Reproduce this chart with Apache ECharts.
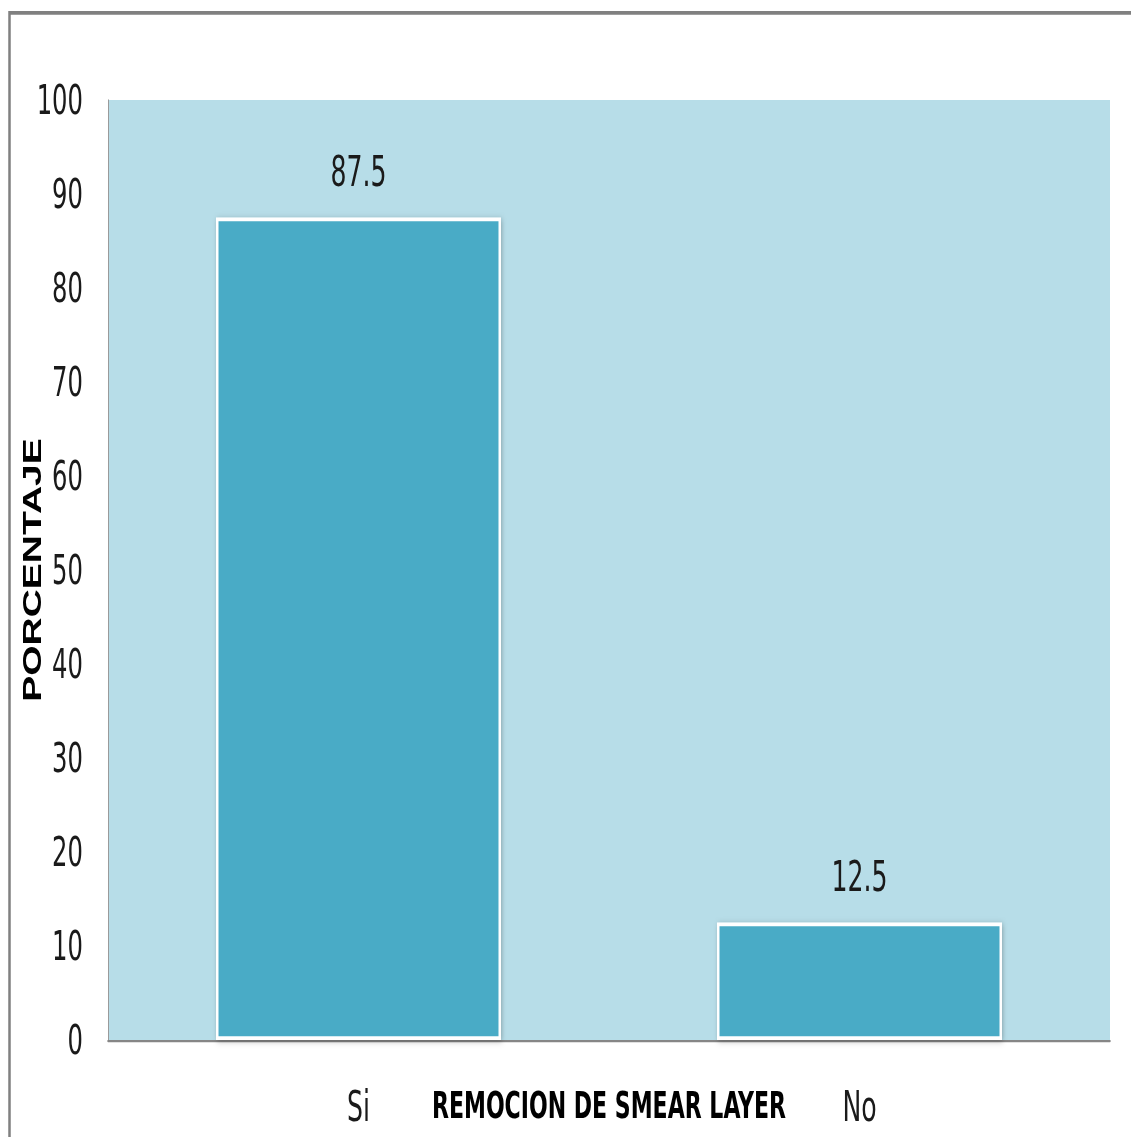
<!DOCTYPE html>
<html>
<head>
<meta charset="utf-8">
<script src="https://cdn.jsdelivr.net/npm/echarts@6/dist/echarts.min.js"></script>
<style>
  html, body { margin: 0; padding: 0; background: #ffffff; overflow: hidden; }
  #wrap { width: 1131px; height: 1137px; overflow: hidden; }
  /* chart is laid out at 2/3 height and stretched vertically */
  #chart { width: 1131px; height: 758px; transform: scaleY(1.5); transform-origin: 0 0; }
</style>
</head>
<body>
<div id="wrap"><div id="chart"></div></div>
<script>
const categories = ['Si', 'No'];
const percentValues = [87.5, 12.5];
const yTicks = { min: 0, max: 100, interval: 10 };
const xAxisTitle = 'REMOCION DE SMEAR LAYER';
const yAxisTitle = 'PORCENTAJE';

const narrow = '"Liberation Sans Narrow", "DejaVu Sans Condensed", "Liberation Sans", sans-serif';

const chart = echarts.init(document.getElementById('chart'), null, { renderer: 'svg' });

chart.setOption({
  backgroundColor: '#ffffff',
  animation: false,
  graphic: [{
    type: 'rect',
    shape: { x: 9.5, y: 8.5, width: 1400, height: 1000 },
    style: { fill: 'none', stroke: '#808080', lineWidth: 2.5 },
    silent: true,
    z: 100
  }],
  grid: {
    left: 108, right: 21, top: 66.7, bottom: 64.7,
    outerBoundsMode: 'none',
    containLabel: false,
    show: true, backgroundColor: '#b7dde8', borderWidth: 0
  },
  xAxis: {
    type: 'category',
    data: categories,
    name: xAxisTitle,
    nameLocation: 'middle',
    nameGap: 31,
    nameMoveOverlap: false,
    nameTextStyle: { fontFamily: narrow, fontWeight: 'bold', fontSize: 24.5, color: '#000000', verticalAlign: 'top' },
    axisLine: { show: true, lineStyle: { color: '#868686', width: 1.5 } },
    axisTick: { show: false },
    axisLabel: { fontFamily: narrow, fontSize: 28, color: '#1a1a1a', margin: 30 }
  },
  yAxis: {
    type: 'value',
    min: yTicks.min, max: yTicks.max, interval: yTicks.interval,
    name: yAxisTitle,
    nameLocation: 'middle',
    nameGap: 63,
    nameRotate: 90,
    nameMoveOverlap: false,
    nameTextStyle: { fontFamily: '"Liberation Sans", Arial, sans-serif', fontWeight: 'bold', fontSize: 26, color: '#000000' },
    axisLine: { show: true, lineStyle: { color: '#9a9a9a', width: 1 } },
    axisTick: { show: false },
    splitLine: { show: false },
    axisLabel: { fontFamily: narrow, fontSize: 27, color: '#1a1a1a', margin: 25 }
  },
  series: [{
    type: 'bar',
    data: percentValues,
    barWidth: 285,
    itemStyle: {
      color: '#4aabc6',
      borderColor: '#ffffff',
      borderWidth: 2.5,
      shadowColor: 'rgba(0,0,0,0.25)',
      shadowBlur: 4,
      shadowOffsetX: 1,
      shadowOffsetY: 1
    },
    label: {
      show: true,
      position: 'top',
      distance: 17,
      fontFamily: narrow,
      fontSize: 28,
      color: '#1a1a1a',
      formatter: p => String(p.value)
    }
  }]
});
</script>
</body>
</html>
